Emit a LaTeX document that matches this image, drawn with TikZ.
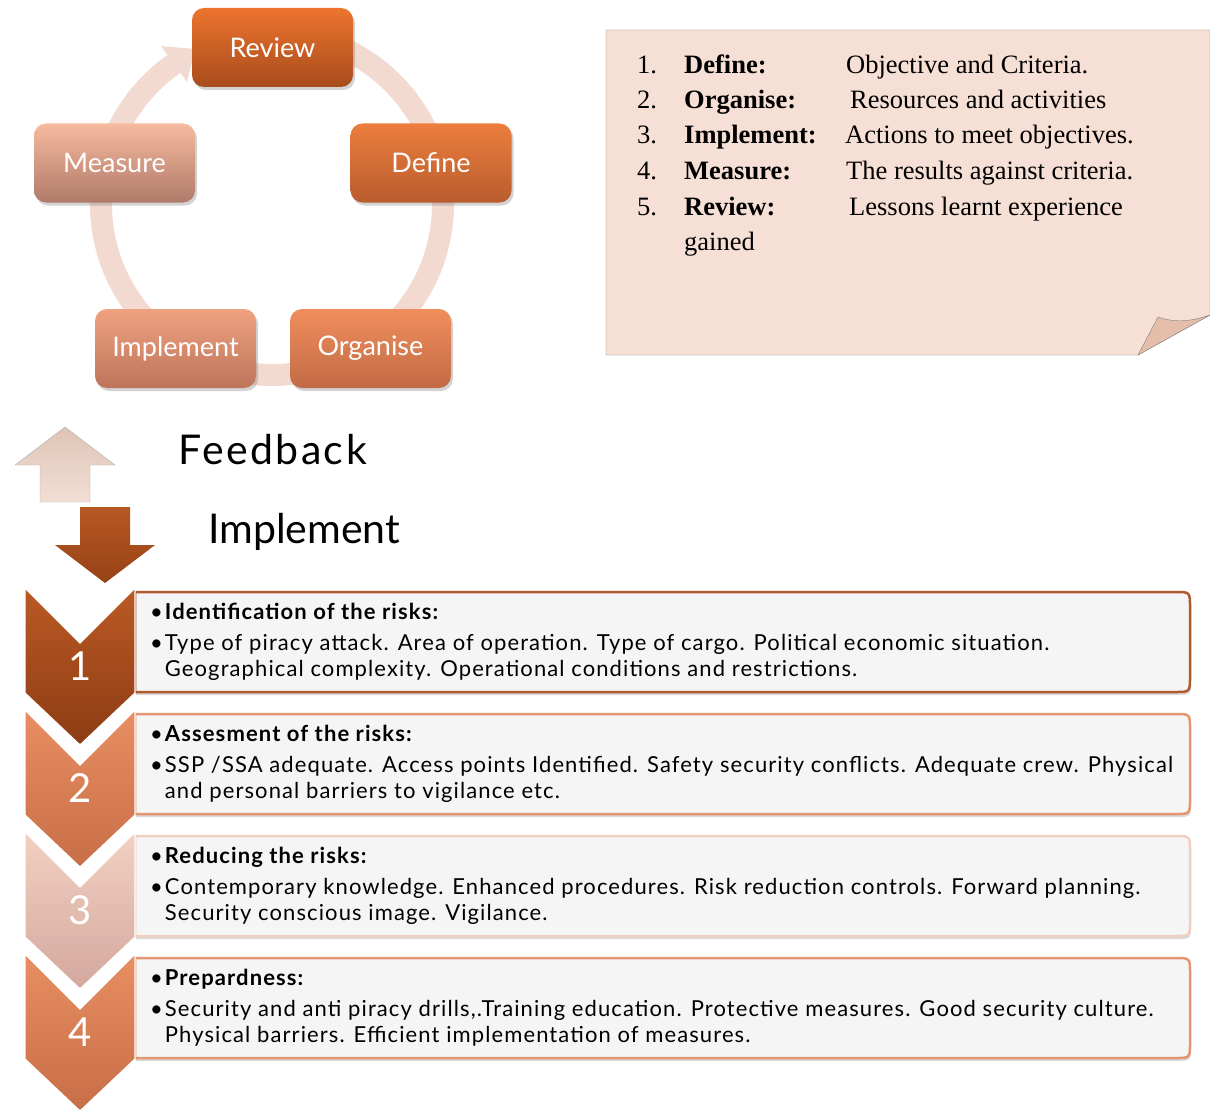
\documentclass[tikz,border=0pt]{standalone}
\usepackage{fontspec}
\setmainfont{Lato}
\newfontfamily\notefont{Liberation Serif}
\newfontfamily\widefont[LetterSpace=5]{Lato}
\usetikzlibrary{shadows}
\definecolor{ringc}{RGB}{242,218,208}
\definecolor{revT}{RGB}{236,116,46}\definecolor{revB}{RGB}{168,76,28}
\definecolor{defT}{RGB}{236,126,62}\definecolor{defB}{RGB}{185,92,46}
\definecolor{orgT}{RGB}{240,142,92}\definecolor{orgB}{RGB}{194,106,70}
\definecolor{impT}{RGB}{238,162,128}\definecolor{impB}{RGB}{190,116,90}
\definecolor{meaT}{RGB}{246,186,158}\definecolor{meaB}{RGB}{176,122,106}
\definecolor{notebg}{RGB}{246,224,213}
\definecolor{flapc}{RGB}{228,190,170}
\definecolor{upT}{RGB}{222,196,182}\definecolor{upB}{RGB}{242,222,212}
\definecolor{dnT}{RGB}{182,88,34}\definecolor{dnB}{RGB}{150,66,22}
\definecolor{chAT}{RGB}{186,90,36}\definecolor{chAB}{RGB}{140,60,20}
\definecolor{chBT}{RGB}{232,142,98}\definecolor{chBB}{RGB}{200,110,72}
\definecolor{chCT}{RGB}{242,208,194}\definecolor{chCB}{RGB}{212,168,158}
\definecolor{bdA}{RGB}{175,90,45}
\definecolor{bdB}{RGB}{228,150,112}
\definecolor{bdC}{RGB}{240,206,192}
\definecolor{boxbg}{RGB}{245,245,245}
\begin{document}
\begin{tikzpicture}[x=1pt,y=-1pt,>=latex,
    cyc/.style={rounded corners=12,minimum width=161,minimum height=79,inner sep=0,
        text=white,font=\fontsize{27}{30}\selectfont,
        drop shadow={opacity=.35,shadow xshift=2pt,shadow yshift=-3pt}},
    notetxt/.style={anchor=base west,inner sep=0,font=\notefont\fontsize{26.5}{30}\selectfont},
    bigtxt/.style={anchor=base west,inner sep=0,font=\fontsize{41}{46}\selectfont},
    num/.style={text=white,inner sep=0,font=\fontsize{40}{44}\selectfont},
    risktxt/.style={anchor=base west,inner sep=0,font=\widefont\fontsize{22}{26}\selectfont}]
\useasboundingbox (0,0) rectangle (1210,1113);

    \draw[ringc,line width=22] (272,204) ++(280:171) arc[start angle=280,end angle=595,radius=171];
    \fill[ringc] (161,46) -- (195,49) -- (187,82) -- cycle;
    \node[cyc,top color=revT,bottom color=revB] (review) at (272.5,47.5) {Review};
    \node[cyc,top color=defT,bottom color=defB] (define) at (431,163) {Define};
    \node[cyc,top color=orgT,bottom color=orgB] (organise) at (370.5,348.5) {Organise};
    \node[cyc,top color=impT,bottom color=impB] (implement) at (175.5,348.5) {Implement};
    \node[cyc,top color=meaT,bottom color=meaB] (measure) at (114.5,163) {Measure};

    \draw[gray,fill=notebg] (606,30) -- (1210,30) -- (1210,315) -- (1138,355) -- (606,355) -- cycle;
    \draw[gray,fill=flapc] (1138,355) -- (1158,317) .. controls (1178,324) and (1195,320) .. (1210,315) -- cycle;
\foreach \n/\lab/\dx/\txt/\yy in {1/Define:/846/Objective and Criteria./74,
    2/Organise:/850/Resources and activities/109,3/Implement:/845/Actions to meet objectives./144,
    4/Measure:/846/The results against criteria./179,5/Review:/849/Lessons learnt experience/215}
{
    \node[notetxt] (no\n) at (637,\yy) {\n.};
    \node[notetxt] (nl\n) at (684,\yy) {\textbf{\lab}};
    \node[notetxt] (nt\n) at (\dx,\yy) {\txt};
}
    \node[notetxt] (nt6) at (684,250) {gained};

    \shade[top color=upT,bottom color=upB,draw=gray!60] (40,502) -- (40,465) -- (15,465) -- (65,427) -- (115,465) -- (90,465) -- (90,502) -- cycle;
    \shade[top color=dnT,bottom color=dnB] (80,507) -- (130,507) -- (130,545) -- (155,545) -- (105,583) -- (55,545) -- (80,545) -- cycle;
    \node[bigtxt] (feedback) at (178,464) {\addfontfeature{LetterSpace=6}Feedback};
    \node[bigtxt] (impl) at (208,543) {Implement};

\foreach \i/\y/\bc/\hd/\la/\lb in {1/592/bdA/Identification of the risks:/{Type of piracy attack. Area of operation. Type of cargo. Political economic situation.}/{Geographical complexity. Operational conditions and restrictions.},
    2/714/bdB/Assesment of the risks:/{SSP /SSA adequate. Access points Identified. Safety security conflicts. Adequate crew. Physical}/{and personal barriers to vigilance etc.},
    3/836/bdC/Reducing the risks:/{Contemporary knowledge. Enhanced procedures. Risk reduction controls. Forward planning.}/{Security conscious image. Vigilance.},
    4/958/bdB/Prepardness:/{Security and anti piracy drills,.Training education. Protective measures. Good security culture.}/{Physical barriers. Efficient implementation of measures.}}
{
    \draw[draw=\bc,line width=2.5,fill=boxbg,drop shadow={opacity=.3,shadow xshift=1pt,shadow yshift=-3pt}]
        (135,\y) -- (1175,\y) .. controls (1190,\y) .. (1190,\y+15) -- (1190,\y+85) .. controls (1190,\y+100) .. (1175,\y+100) -- (135,\y+100) -- cycle;
    \node[risktxt] (t\i) at (150,\y+27) {\begin{tabular}[t]{@{}l@{\hspace{2pt}}l@{}}\textbullet&\textbf{\hd}\\[5pt]\textbullet&\la\\&\lb\end{tabular}};
}

\foreach \i/\y/\tc/\bc in {4/954/chBT/chBB,3/832/chCT/chCB,2/710/chBT/chBB,1/588/chAT/chAB}
{
    \shade[top color=\tc,bottom color=\bc,draw=white,line width=1.2] (25,\y) -- (80,\y+55) -- (135,\y) -- (135,\y+105) -- (80,\y+157) -- (25,\y+105) -- cycle;
    \node[num] (n\i) at (80,\y+78) {\i};
}
\end{tikzpicture}
\end{document}
